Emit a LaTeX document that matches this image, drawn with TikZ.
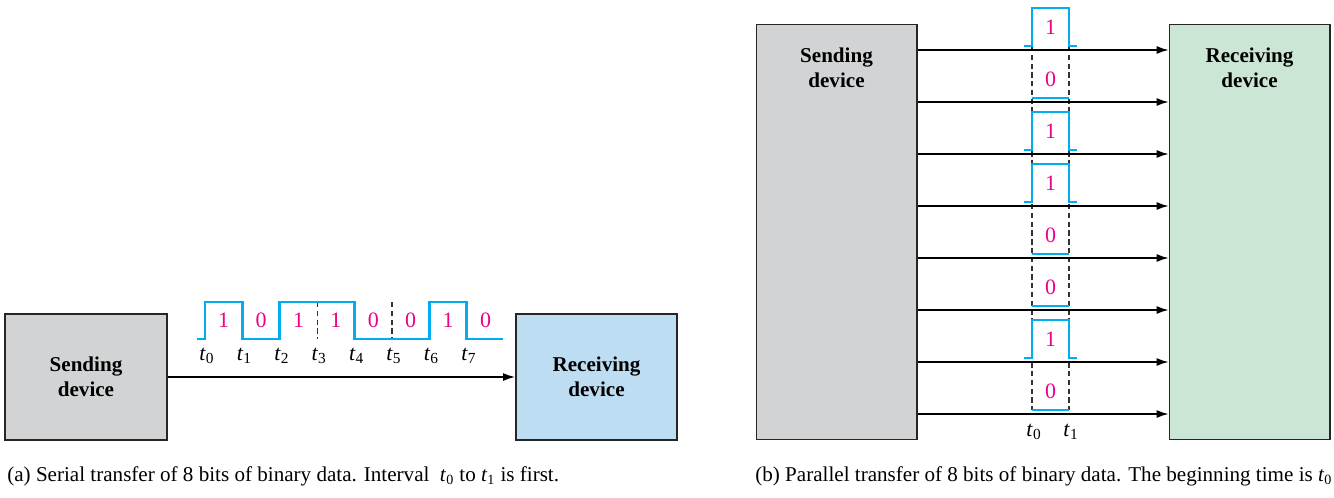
\documentclass[tikz,border=0pt]{standalone}
\usepackage{fontspec}
\setmainfont{Liberation Serif}
\usetikzlibrary{arrows.meta}
\pgfdeclarelayer{edgelayer}
\pgfdeclarelayer{nodelayer}
\pgfsetlayers{edgelayer,nodelayer,main}
\definecolor{devgray}{RGB}{209,211,212}
\definecolor{devblue}{RGB}{189,221,243}
\definecolor{devgreen}{RGB}{204,230,213}
\definecolor{wavecyan}{RGB}{0,174,239}
\definecolor{bitmagenta}{RGB}{236,0,140}
\newcommand{\tlab}[1]{\textit{t}\textsubscript{#1}}
\tikzset{font=\fontsize{12.5}{14}\selectfont}
\tikzstyle{none}=[inner sep=0pt]
\tikzstyle{device}=[draw=black!85,line width=0.6pt,inner sep=0pt,align=center,font=\fontsize{12}{14.5}\selectfont\bfseries]
\tikzstyle{devtext}=[inner sep=0pt,align=center,font=\fontsize{12}{14.5}\selectfont\bfseries]
\tikzstyle{bit}=[inner sep=0pt,text=bitmagenta]
\tikzstyle{caption}=[inner sep=0pt,anchor=base west,font=\fontsize{12}{14}\selectfont]
\tikzstyle{wire}=[line width=1.1pt,-{Latex[length=7pt,width=4.5pt]}]
\tikzstyle{wave}=[line width=1.5pt,wavecyan]
\tikzstyle{guide}=[line width=0.6pt,black!80,dash pattern=on 3pt off 2pt]

\begin{document}
\begin{tikzpicture}[x=0.02cm,y=-0.02cm]
	\useasboundingbox (0,0) rectangle (1334,497);
	\begin{pgfonlayer}{nodelayer}
		% (a) serial
		\node [style=device,fill=devgray,minimum width=3.24cm,minimum height=2.52cm] (senda) at (86,377) {Sending\\device};
		\node [style=device,fill=devblue,minimum width=3.22cm,minimum height=2.52cm] (recva) at (596.5,377) {Receiving\\device};
		\node [style=bit] (a0) at (223.7,320) {1};
		\node [style=bit] (a1) at (261.1,320) {0};
		\node [style=bit] (a2) at (298.5,320) {1};
		\node [style=bit] (a3) at (335.9,320) {1};
		\node [style=bit] (a4) at (373.3,320) {0};
		\node [style=bit] (a5) at (410.7,320) {0};
		\node [style=bit] (a6) at (448.1,320) {1};
		\node [style=bit] (a7) at (485.5,320) {0};
		\node [style=none] (ta0) at (207,356) {\tlab{0}};
		\node [style=none] (ta1) at (244.4,356) {\tlab{1}};
		\node [style=none] (ta2) at (281.8,356) {\tlab{2}};
		\node [style=none] (ta3) at (319.2,356) {\tlab{3}};
		\node [style=none] (ta4) at (356.6,356) {\tlab{4}};
		\node [style=none] (ta5) at (394,356) {\tlab{5}};
		\node [style=none] (ta6) at (431.4,356) {\tlab{6}};
		\node [style=none] (ta7) at (468.8,356) {\tlab{7}};
		\node [style=caption] (capa) at (7,481) {(a) Serial transfer of 8 bits of binary data. Interval\enspace\tlab{0} to \tlab{1} is first.};
		% (b) parallel
		\node [style=device,fill=devgray,minimum width=3.22cm,minimum height=8.32cm] (sendb) at (836.5,232) {};
		\node [style=device,fill=devgreen,minimum width=3.22cm,minimum height=8.32cm] (recvb) at (1249.5,232) {};
		\node [style=devtext] (sendbl) at (836.5,68) {Sending\\device};
		\node [style=devtext] (recvbl) at (1249.5,68) {Receiving\\device};
		\node [style=none] (s1) at (917,50) {};
		\node [style=none] (s2) at (917,102) {};
		\node [style=none] (s3) at (917,154) {};
		\node [style=none] (s4) at (917,206) {};
		\node [style=none] (s5) at (917,258) {};
		\node [style=none] (s6) at (917,310) {};
		\node [style=none] (s7) at (917,362) {};
		\node [style=none] (s8) at (917,414) {};
		\node [style=none] (r1) at (1169,50) {};
		\node [style=none] (r2) at (1169,102) {};
		\node [style=none] (r3) at (1169,154) {};
		\node [style=none] (r4) at (1169,206) {};
		\node [style=none] (r5) at (1169,258) {};
		\node [style=none] (r6) at (1169,310) {};
		\node [style=none] (r7) at (1169,362) {};
		\node [style=none] (r8) at (1169,414) {};
		\node [style=bit] (b1) at (1050.5,27) {1};
		\node [style=bit] (b2) at (1050.5,79) {0};
		\node [style=bit] (b3) at (1050.5,131) {1};
		\node [style=bit] (b4) at (1050.5,183) {1};
		\node [style=bit] (b5) at (1050.5,235) {0};
		\node [style=bit] (b6) at (1050.5,287) {0};
		\node [style=bit] (b7) at (1050.5,339) {1};
		\node [style=bit] (b8) at (1050.5,391) {0};
		\node [style=none] (tb0) at (1034,432) {\tlab{0}};
		\node [style=none] (tb1) at (1071,432) {\tlab{1}};
		\node [style=caption] (capb) at (755,481) {(b) Parallel transfer of 8 bits of binary data. The beginning time is \tlab{0}};
	\end{pgfonlayer}
	\begin{pgfonlayer}{edgelayer}
		% dashed time marks
		\draw [style=guide] (317.2,302) to (317.2,339);
		\draw [style=guide] (392,302) to (392,339);
		\draw [style=guide] (1032,46) to (1032,410);
		\draw [style=guide] (1069,46) to (1069,410);
		% serial bits 10110010
		\draw [style=wave] (197,339) -- (205,339) -- (205,302) -- (242.4,302) -- (242.4,339) -- (279.8,339) -- (279.8,302) -- (354.6,302) -- (354.6,339) -- (429.4,339) -- (429.4,302) -- (466.8,302) -- (466.8,339) -- (503,339);
		\draw [style=wire] (senda.east) to (recva.west);
		% parallel bits, one per line
		\draw [style=wave] (1024,46) -- (1032,46) -- (1032,8) -- (1069,8) -- (1069,46) -- (1077,46);
		\draw [style=wave] (1032,98) -- (1069,98);
		\draw [style=wave] (1024,150) -- (1032,150) -- (1032,112) -- (1069,112) -- (1069,150) -- (1077,150);
		\draw [style=wave] (1024,202) -- (1032,202) -- (1032,164) -- (1069,164) -- (1069,202) -- (1077,202);
		\draw [style=wave] (1032,254) -- (1069,254);
		\draw [style=wave] (1032,306) -- (1069,306);
		\draw [style=wave] (1024,358) -- (1032,358) -- (1032,320) -- (1069,320) -- (1069,358) -- (1077,358);
		\draw [style=wave] (1032,410) -- (1069,410);
		\draw [style=wire] (s1.center) to (r1.center);
		\draw [style=wire] (s2.center) to (r2.center);
		\draw [style=wire] (s3.center) to (r3.center);
		\draw [style=wire] (s4.center) to (r4.center);
		\draw [style=wire] (s5.center) to (r5.center);
		\draw [style=wire] (s6.center) to (r6.center);
		\draw [style=wire] (s7.center) to (r7.center);
		\draw [style=wire] (s8.center) to (r8.center);
	\end{pgfonlayer}
\end{tikzpicture}
\end{document}
